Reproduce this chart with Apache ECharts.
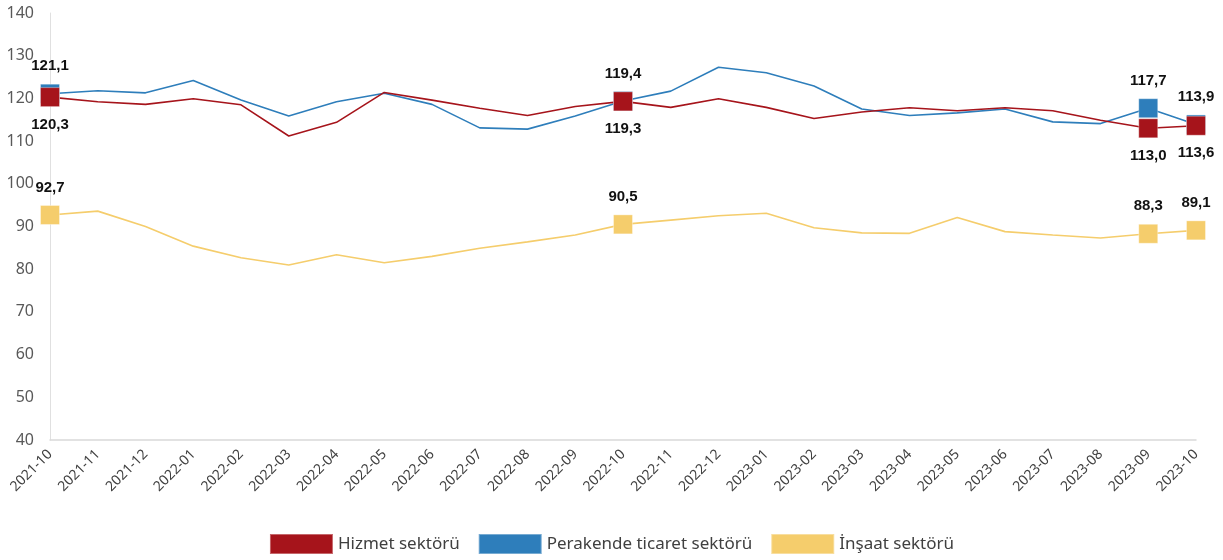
<!DOCTYPE html>
<html>
<head>
<meta charset="utf-8">
<script src="https://cdn.jsdelivr.net/npm/echarts@6/dist/echarts.min.js"></script>
<style>
  html, body { margin: 0; padding: 0; background: #fff; }
  #chart { width: 1223px; height: 560px; }
</style>
</head>
<body>
<div id="chart"></div>
<script>
const months = [
  '2021-10', '2021-11', '2021-12', '2022-01', '2022-02', '2022-03', '2022-04',
  '2022-05', '2022-06', '2022-07', '2022-08', '2022-09', '2022-10', '2022-11',
  '2022-12', '2023-01', '2023-02', '2023-03', '2023-04', '2023-05', '2023-06',
  '2023-07', '2023-08', '2023-09', '2023-10'
]

const hizmet = [
  120.3, 119.2, 118.6, 119.9, 118.5, 111.2, 114.4, 121.4, 119.6, 117.7, 116.0, 118.1, 119.3,
  117.9, 119.9, 117.9, 115.3, 116.8, 117.8, 117.1, 117.8, 117.1, 114.9, 113.0, 113.6
]
const perakende = [
  121.1, 121.8, 121.3, 124.2, 119.6, 115.9, 119.2, 121.2, 118.6, 113.1, 112.8, 115.9, 119.4,
  121.7, 127.3, 126.0, 122.9, 117.5, 116.0, 116.6, 117.5, 114.5, 114.1, 117.7, 113.9
]
const insaat = [
  92.7, 93.6, 90.0, 85.4, 82.7, 81.0, 83.4, 81.5, 83.0, 84.9, 86.4, 88.0, 90.5,
  91.5, 92.5, 93.1, 89.7, 88.5, 88.4, 92.1, 88.8, 88.0, 87.3, 88.3, 89.1
]

// months that get a square marker and a value label
const marked = [0, 12, 23, 24]

const fmt = v => v.toFixed(1).replace('.', ',')

function buildData(values, labelPos) {
  return values.map((v, i) => {
    if (!marked.includes(i)) return v
    return {
      value: v,
      symbol: 'rect',
      symbolSize: 19,
      label: {
        show: true,
        position: labelPos,
        distance: 10,
        formatter: p => fmt(p.value),
        color: '#111',
        fontWeight: 'bold',
        fontSize: 15,
        fontFamily: 'Liberation Sans'
      }
    }
  })
}

function lineSeries(name, color, values, labelPos) {
  return {
    name: name,
    type: 'line',
    data: buildData(values, labelPos),
    symbol: 'none',
    showSymbol: true,
    lineStyle: { color: color, width: 1.6 },
    itemStyle: { color: color, borderColor: 'rgba(255,255,255,0.35)', borderWidth: 1 },
    emphasis: { disabled: true },
    animation: false
  }
}

const chart = echarts.init(document.getElementById('chart'))

const option = {
  grid: {
    left: 50,
    right: 27,
    top: 13,
    bottom: 120
  },
  legend: {
    bottom: 0,
    left: 'center',
    data: ['Hizmet sektörü', 'Perakende ticaret sektörü', 'İnşaat sektörü'],
    icon: 'rect',
    itemWidth: 63,
    itemHeight: 20,
    itemGap: 18,
    textStyle: { color: '#404040', fontSize: 17, fontFamily: 'Noto Sans' }
  },
  xAxis: {
    type: 'category',
    data: months,
    boundaryGap: false,
    axisTick: { show: false },
    axisLine: { lineStyle: { color: '#d9d9d9', width: 1.5 } },
    axisLabel: {
      rotate: 45,
      interval: 0,
      margin: 12,
      color: '#404040',
      fontSize: 14,
      fontFamily: 'Noto Sans'
    }
  },
  yAxis: {
    type: 'value',
    min: 40,
    max: 140,
    interval: 10,
    splitLine: { show: false },
    axisLine: { show: true, lineStyle: { color: '#e0e0e0' } },
    axisTick: { show: false },
    axisLabel: {
      margin: 16,
      color: '#595959',
      fontSize: 16,
      fontFamily: 'Noto Sans'
    }
  },
  series: [
    lineSeries('Perakende ticaret sektörü', '#2e7ebb', perakende, 'top'),
    lineSeries('Hizmet sektörü', '#a6141b', hizmet, 'bottom'),
    lineSeries('İnşaat sektörü', '#f5cd6c', insaat, 'top')
  ]
}

chart.setOption(option)
</script>
</body>
</html>
